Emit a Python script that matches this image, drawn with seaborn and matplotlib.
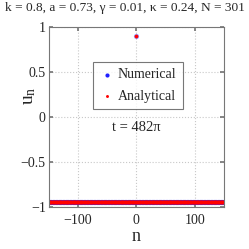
import numpy as np
import pandas as pd
import matplotlib
matplotlib.use("Agg")
import matplotlib.pyplot as plt
import seaborn as sns

# Data
n_vals = list(range(-150, 151))
background_level = -0.95
peak_value = 0.9
numerical = [peak_value if n == 0 else background_level for n in n_vals]
analytical = [peak_value if n == 0 else background_level for n in n_vals]
xticks = [-100, 0, 100]
yticks = [-1, -0.5, 0, 0.5, 1]
ytick_labels = ["\u22121", "\u22120.5", "0", "0.5", "1"]
xtick_labels = ["\u2212100", "0", "100"]
title = "k = 0.8, a = 0.73, \u03b3 = 0.01, \u03ba = 0.24, N = 301"
annotation = "t = 482\u03c0"

sns.set_theme(style="white")
plt.rcParams['font.family'] = ['Liberation Serif', 'DejaVu Serif']
plt.rcParams['mathtext.fontset'] = 'stix'

df_num = pd.DataFrame({"n": n_vals, "u": numerical})
df_ana = pd.DataFrame({"n": n_vals, "u": analytical})

fig = plt.figure(figsize=(2.49, 2.49), dpi=100)
ax = fig.add_axes([0.195, 0.169, 0.705, 0.723])

sns.scatterplot(data=df_num, x="n", y="u", ax=ax, color="#2020ff", s=14,
                linewidth=0, marker="o", label="Numerical", alpha=0.45)
sns.scatterplot(data=df_ana, x="n", y="u", ax=ax, color="#ff0000", s=7,
                linewidth=0, marker="o", label="Analytical")

ax.set_xlim(-150, 150)
ax.set_ylim(-1, 1)
ax.set_xticks(xticks)
ax.set_xticklabels(xtick_labels)
ax.set_yticks(yticks)
ax.set_yticklabels(ytick_labels)
ax.grid(True, linestyle=":", color="#c8c8c8", linewidth=0.8)
ax.tick_params(direction="in", length=3, labelsize=10, color="#777777",
               top=True, right=True, bottom=True, left=True)
ax.tick_params(axis="x", pad=5)
ax.tick_params(axis="y", pad=2)
for sp in ax.spines.values():
    sp.set_color("#777777")
    sp.set_linewidth(0.8)

ax.set_xlabel("n", fontsize=13, labelpad=1)
ax.set_ylabel(r"$\mathregular{u_n}$", fontsize=14)
ax.yaxis.set_label_coords(-0.06, 0.62)
fig.text(0.5, 0.968, title, fontsize=9.6, ha="center", va="center")
ax.text(0, -0.12, annotation, fontsize=10.5, ha="center", va="center")

leg = ax.legend(loc="upper center", bbox_to_anchor=(0.51, 0.805), fontsize=10,
                frameon=True, fancybox=False, edgecolor="#555555",
                handletextpad=0.2, borderpad=0.45, labelspacing=0.6,
                markerscale=0.8, handlelength=1.1, borderaxespad=0)
leg.get_frame().set_linewidth(0.8)
for h in leg.legend_handles:
    h.set_alpha(1)

fig.savefig("out.png", dpi=100)
